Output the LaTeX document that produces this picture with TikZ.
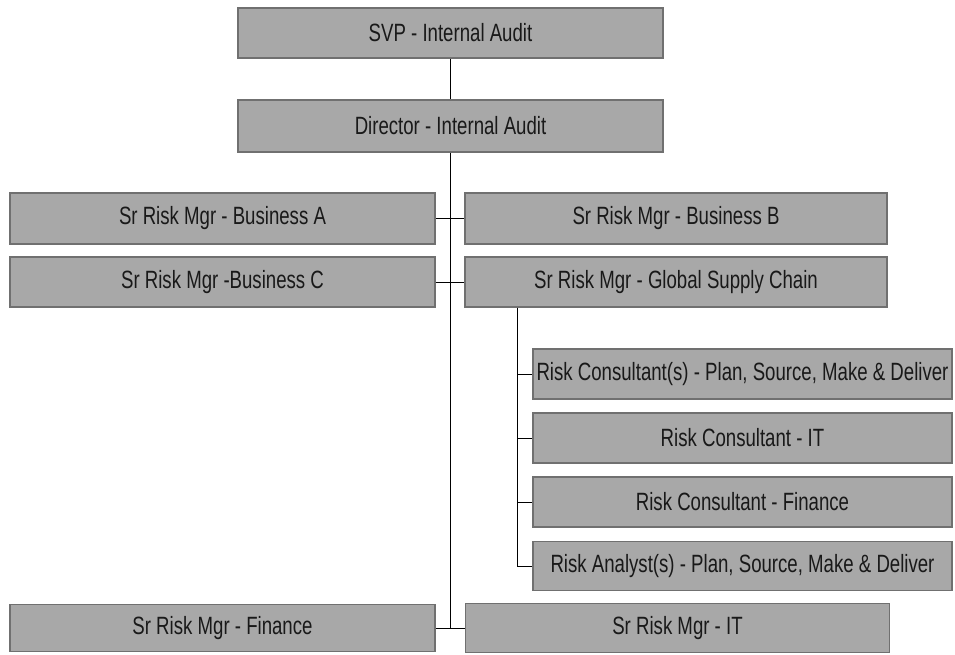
\documentclass[tikz,border=0pt]{standalone}
\usepackage{fontspec}
\setmainfont{Liberation Sans}[FakeStretch=0.745]
\begin{document}
\begin{tikzpicture}[x=1pt,y=-1pt,
  orgbox/.style={draw=boxedge, line width=1.3pt, fill=boxfill, rectangle,
    inner sep=0pt, minimum width=425pt, minimum height=50pt,
    font=\fontsize{25}{25}\selectfont, text=black!90},
  wide/.style={minimum width=422pt},
  sub/.style={minimum width=419pt},
  link/.style={draw=black, line width=1pt}]
\definecolor{boxfill}{HTML}{A8A8A8}
\definecolor{boxedge}{HTML}{707070}
\useasboundingbox (0,0) rectangle (955,654);

% top of the hierarchy
\node[orgbox] (svp) at (450.5,33) {SVP - Internal Audit};
\node[orgbox, minimum height=52pt] (dir) at (450.5,126) {Director - Internal Audit};

% senior risk managers
\node[orgbox, minimum height=51pt] (ba) at (222.5,218.5) {Sr Risk Mgr - Business A};
\node[orgbox, wide, minimum height=51pt] (bb) at (676,218.5) {Sr Risk Mgr - Business B};
\node[orgbox] (bc) at (222.5,282) {Sr Risk Mgr -Business C};
\node[orgbox, wide] (gsc) at (676,282) {Sr Risk Mgr - Global Supply Chain};

% supply chain team
\node[orgbox, sub] (rc1) at (742.5,374) {Risk Consultant(s) - Plan, Source, Make \& Deliver};
\node[orgbox, sub] (rc2) at (742.5,438) {Risk Consultant - IT};
\node[orgbox, sub] (rc3) at (742.5,502) {Risk Consultant - Finance};
\node[orgbox, sub, minimum height=49pt] (ra) at (742.5,566) {Risk Analyst(s) - Plan, Source, Make \& Deliver};

% bottom row
\node[orgbox, minimum height=47pt] (fin) at (222.5,628) {Sr Risk Mgr - Finance};
\node[orgbox, minimum width=424pt, minimum height=49pt] (it) at (677.5,628) {Sr Risk Mgr - IT};

% spine
\coordinate (spine) at (450.5,628);
\draw[link] (svp.south) -- (dir.north);
\draw[link] (dir.south) -- (spine);
\draw[link] (ba.east) -- (bb.west);
\draw[link] (bc.east) -- (gsc.west);
\draw[link] (fin.east) -- (it.west);

% supply chain branch
\coordinate (tap) at (517,0);
\draw[link] (tap |- gsc.south) -- (tap |- ra.west) -- (ra.west);
\draw[link] (tap |- rc1.west) -- (rc1.west);
\draw[link] (tap |- rc2.west) -- (rc2.west);
\draw[link] (tap |- rc3.west) -- (rc3.west);
\end{tikzpicture}
\end{document}
